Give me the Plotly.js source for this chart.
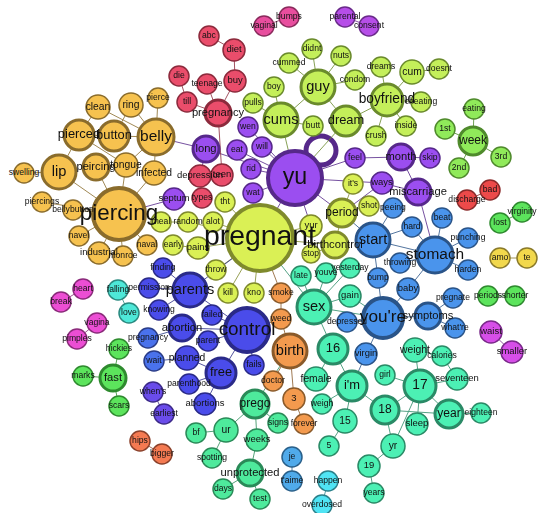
<!DOCTYPE html>
<html><head><meta charset="utf-8">
<script src="https://cdn.plot.ly/plotly-3.0.1.min.js"></script>
<style>html,body{margin:0;padding:0;background:#fff}#chart{width:539px;height:513px}</style>
</head><body><div id="chart"></div>
<script>
// ---- data: word nodes (id, community group, weight) ----
const nodeIds = ["belly","clean","ring","pierce","pierced","button","lip","peircing","tongue","swelling","infected","piercing","piercings","bellybutton","navel","industrial","monroe","naval",
"die","till","abc","diet","teenage","buy","pregnancy","depression","teen","types",
"vaginal","bumps","parental","consent",
"didnt","nuts","cummed","guy","condom","boy","pulls","cums","butt","dream","dreams","cum","doesnt","boyfriend","cheating","inside","crush",
"eating","1st","week","3rd","2nd",
"yu","wen","long","eat","will","rid","wat","feel","month","skip","septum","ways","miscarriage",
"pregnant","tht","random","alot","meal","early","pains","throw","kill","kno","yur","it's","period","shot","birthcontrol","stop",
"smoke","weed","birth","doctor","3","forever",
"start","stomach","peeing","hard","beat","punching","harden","throwing","bump","baby","pregnate","symptoms","what're","you're","depressed","virgin",
"control","parents","finding","permission","knowing","abortion","failed","parent","planned","free","fails","parenthood","abortions",
"pregnancy_b","wait","when's","earliest",
"sex","late","youve","yesterday","gain","16","female","i'm","weigh","15","5","girl","weight","calories","17","seventeen","18","year","eighteen","sleep","yr","19","years",
"prego","signs","ur","bf","weeks","spotting","unprotected","days","test",
"discharge","bad","virginity","lost","amo","te","periods","shorter","waist","smaller","heart","break","vagina","pimples","falling","love","hickies","fast","marks","scars","hips","bigger","je","t'aime","happen","overdosed"];

const nodeGroup = ["pierce","pierce","pierce","pierce","pierce","pierce","pierce","pierce","pierce","pierce","pierce","pierce","pierce","pierce","pierce","pierce","pierce","pierce",
"redp","redp","redp","redp","redp","redp","redp","redp","redp","redp",
"pinkv","pinkv","violet","violet",
"lime","lime","lime","lime","lime","lime","lime","lime","lime","lime","lime","lime","lime","lime","lime","lime","lime",
"green2","green2","green2","green2","green2",
"purple","purple","purple","purple","purple","purple","purple","purple","purple","purple","purple","purple","purple",
"yellow","yellow","yellow","yellow","yellow","yellow","yellow","yellow","yellow","yellow","yellow","yellow","yellow","yellow","yellow","yellow",
"orange","orange","orange","orange","orange","orange",
"blue","blue","blue","blue","blue","blue","blue","blue","blue","blue","blue","blue","blue","blue","blue","blue",
"indigo","indigo","indigo","indigo","indigo","indigo","indigo","indigo","indigo","indigo","indigo","indigo","indigo",
"blue2","blue2","vblue","vblue",
"teal","teal","teal","teal","teal","teal","teal","teal","teal","teal","teal","teal","teal","teal","teal","teal","teal","teal","teal","teal","teal","teal","teal",
"teal2","teal2","teal2","teal2","teal2","teal2","teal2","teal2","teal2",
"red","red","green","green","gold","gold","green","green","mag2","mag2","magenta","magenta","magenta","magenta","cyan","cyan","green","green","green","green","coral","coral","sky","sky","aqua","aqua"];

// node weight (drawn as circle radius)
const nodeWeight = [18,12,12,10,15,15,17,13,12,10,12,26,10,10,10,11,10,10,
10,10,10,11,10,11,13,11,11,10,
10,10,10,10,
10,10,10,17,10,10,10,17,10,15,10,12,10,16,10,10,10,
10,10,14,10,10,
27,10,13,10,10,10,10,10,13,10,11,11,13,
33,10,10,10,10,10,11,10,10,10,11,10,14,10,13,9,
10,10,17,10,11,10,
17,18,10,10,10,10,10,10,10,11,10,13,10,20,10,11,
22,17,10,10,10,13,10,10,12,15,10,10,11,
10,10,10,10,
17,10,10,10,11,15,12,15,10,12,10,10,12,10,16,11,14,14,10,11,12,11,10,
14,10,12,10,11,10,13,10,10,
10,10,10,10,10,10,10,10,11,11,10,10,10,10,10,10,10,13,10,10,10,10,10,10,10,10];

// force-layout positions of the nodes
const layoutX = [156,98,131,158,79,114,59,96,126,24,154,119,42,73,79,99,123,147,
179,187,209,234,207,235,218,200,222,202,
264,289,345,369,
312,341,289,318,355,274,253,281,313,346,381,412,439,387,421,406,376,
474,445,473,501,459,
295,248,206,237,262,251,253,355,401,430,174,382,418,
260,225,188,213,161,173,198,216,228,254,311,353,342,369,335,311,
281,281,290,273,294,304,
373,435,393,412,442,468,468,400,378,408,453,428,455,383,347,366,
247,190,163,149,159,182,212,208,187,221,254,189,205,
148,154,153,164,
314,301,326,350,350,333,316,352,322,345,329,385,415,442,420,457,385,449,481,417,393,369,374,
255,278,226,196,257,212,250,223,260,
467,490,522,500,500,527,488,515,491,512,83,61,97,77,118,129,119,113,83,119,140,162,292,292,328,322];
const layoutY = [137,107,105,98,135,136,172,167,165,173,173,214,202,210,236,253,256,245,
76,102,36,50,84,81,113,176,175,198,
26,17,17,26,
49,56,63,87,80,87,103,120,126,121,67,72,69,100,102,126,136,
109,129,141,157,168,
178,127,149,150,147,169,193,158,157,158,199,183,192,
238,202,222,222,222,245,248,270,293,293,226,184,213,206,245,254,
293,319,351,381,399,424,
240,255,208,227,218,238,270,263,278,289,298,316,328,318,322,354,
330,290,268,288,310,328,315,341,358,373,365,384,404,
338,361,392,414,
307,276,273,268,296,349,379,386,404,421,446,375,350,356,386,379,410,414,413,424,446,466,493,
404,423,430,433,440,458,473,489,499,
200,190,212,223,258,258,296,296,332,352,289,302,323,339,290,313,349,378,376,406,441,454,457,481,481,505];

// directed word links: [source, target]
const links = [
["lip","piercing"],["peircing","piercing"],["tongue","piercing"],["infected","piercing"],["piercings","piercing"],["bellybutton","piercing"],["navel","piercing"],["industrial","piercing"],["monroe","piercing"],["naval","piercing"],["swelling","lip"],["pierced","lip"],["clean","pierced"],["clean","belly"],["ring","belly"],["pierce","belly"],["button","belly"],["infected","belly"],["tongue","pierced"],["tongue","belly"],["ring","button"],["pierced","button"],["peircing","tongue"],["septum","piercing"],["long","belly"],
["die","till"],["till","pregnancy"],["teenage","pregnancy"],["buy","pregnancy"],["diet","buy"],["abc","diet"],["teen","pregnancy"],["depression","teen"],["types","depression"],["long","depression"],
["vaginal","bumps"],["parental","consent"],
["didnt","guy"],["nuts","guy"],["cummed","guy"],["condom","guy"],["guy","cums"],["boy","cums"],["pulls","cums"],["butt","cums"],["cums","yu"],["dream","yu"],["guy","dream"],["dreams","boyfriend"],["cum","boyfriend"],["cheating","boyfriend"],["inside","boyfriend"],["crush","boyfriend"],["boyfriend","dream"],["doesnt","cum"],
["eating","week"],["1st","week"],["3rd","week"],["2nd","week"],
["wen","yu"],["eat","yu"],["will","yu"],["rid","yu"],["wat","yu"],["long","yu"],["feel","yu"],["month","feel"],["skip","month"],["ways","yu"],["yu","pregnant"],["yu","yur"],["yu","period"],["month","miscarriage"],
["tht","pregnant"],["random","pregnant"],["alot","pregnant"],["pains","pregnant"],["throw","pregnant"],["kill","pregnant"],["kno","pregnant"],["smoke","pregnant"],["yur","pregnant"],["birthcontrol","pregnant"],["meal","random"],["early","pains"],["period","birthcontrol"],["it's","period"],["shot","period"],["stop","birthcontrol"],["ways","period"],
["peeing","start"],["bump","start"],["start","stomach"],["hard","stomach"],["beat","stomach"],["punching","stomach"],["harden","stomach"],["throwing","stomach"],["baby","stomach"],["baby","you're"],["symptoms","you're"],["pregnate","symptoms"],["what're","symptoms"],["bump","you're"],["miscarriage","stomach"],["ways","miscarriage"],["hard","start"],["depressed","you're"],["virgin","you're"],["start","period"],
["finding","parents"],["permission","parents"],["knowing","parents"],["parents","control"],["failed","control"],["parent","control"],["abortion","control"],["planned","free"],["parenthood","free"],["abortions","free"],["free","control"],["fails","control"],["pregnancy_b","abortion"],["wait","planned"],["when's","earliest"],["weed","control"],["parents","pregnant"],
["smoke","weed"],["weed","birth"],["doctor","birth"],["3","birth"],["forever","3"],
["late","sex"],["youve","sex"],["yesterday","sex"],["gain","sex"],["sex","pregnant"],["female","16"],["i'm","16"],["16","sex"],["weigh","i'm"],["15","i'm"],["5","15"],["girl","17"],["weight","17"],["calories","weight"],["seventeen","17"],["calories","seventeen"],["17","year"],["18","year"],["eighteen","year"],["sleep","17"],["18","17"],["yr","18"],["19","yr"],["years","19"],["i'm","18"],["virgin","i'm"],["sex","you're"],["gain","you're"],["yr","17"],
["signs","prego"],["weeks","prego"],["ur","prego"],["bf","ur"],["spotting","ur"],["unprotected","weeks"],["days","unprotected"],["test","unprotected"],["prego","birth"],
["je","t'aime"],["happen","overdosed"],["heart","break"],["vagina","pimples"],["falling","love"],["hips","bigger"],["amo","te"],["periods","shorter"],["waist","smaller"],["bad","discharge"],["virginity","lost"],["hickies","fast"],["marks","fast"],["scars","fast"]
];

// ---- styles ----
const groupFill = {pierce:"#f6c24f",redp:"#ea4d6b",pinkv:"#e84e9e",violet:"#b64ee8",lime:"#c4ef5a",green2:"#90ea5a",purple:"#9b4ef0",yellow:"#daf055",orange:"#f39a4e",blue:"#4a94ec",indigo:"#4a4cea",blue2:"#4a72ec",vblue:"#6a4cea",teal:"#4cf0b4",teal2:"#4eea9c",red:"#ec4a4a",green:"#5ce45c",gold:"#f2d84c",mag2:"#d64ee8",magenta:"#ec4ed4",cyan:"#4ee8d8",coral:"#f47a52",sky:"#50aaea",aqua:"#50e4f4"};
const groupLine = {pierce:"#8a6c2c",redp:"#8c2a3c",pinkv:"#8a2a5c",violet:"#6a2a8a",lime:"#6a8a2c",green2:"#4f8a2c",purple:"#56288a",yellow:"#7f8a2c",orange:"#8a5a2a",blue:"#2a5488",indigo:"#2a2a88",blue2:"#2a3c88",vblue:"#3c2a88",teal:"#2a8a66",teal2:"#2a8a58",red:"#8a2a2a",green:"#2e8a2e",gold:"#8a7a2a",mag2:"#7a2a8a",magenta:"#8a2a7a",cyan:"#2a8a80",coral:"#8a402a",sky:"#2a608a",aqua:"#2a808a"};

const idx = {};
nodeIds.forEach((n,i)=>idx[n]=i);
const labels = nodeIds.map(n => n==="pregnancy_b" ? "pregnancy" : n);

// edges grouped by source colour
const edgeTraces = {};
links.forEach(([s,t])=>{
  const a = idx[s], b = idx[t];
  const g = nodeGroup[a];
  if(!edgeTraces[g]) edgeTraces[g] = {x:[],y:[]};
  edgeTraces[g].x.push(layoutX[a], layoutX[b], null);
  edgeTraces[g].y.push(layoutY[a], layoutY[b], null);
});
const traces = Object.keys(edgeTraces).map(g=>({
  type:"scatter", mode:"lines", x:edgeTraces[g].x, y:edgeTraces[g].y,
  line:{color:groupLine[g], width:1}, opacity:0.8, hoverinfo:"skip", showlegend:false
}));

// nodes: draw bigger ones first so small ones sit on top
const order = nodeIds.map((_,i)=>i).sort((a,b)=>nodeWeight[b]-nodeWeight[a]);
traces.push({
  type:"scatter", mode:"markers+text",
  x: order.map(i=>layoutX[i]), y: order.map(i=>layoutY[i]),
  text: order.map(i=>labels[i]),
  textposition:"middle center",
  textfont:{family:"Liberation Sans, Arial, sans-serif", color:"#111", size: order.map(i=>Math.max(8.5, nodeWeight[i]*0.86))},
  marker:{size: order.map(i=>nodeWeight[i]*2), color: order.map(i=>groupFill[nodeGroup[i]]),
    line:{color: order.map(i=>groupLine[nodeGroup[i]]), width: order.map(i=>nodeWeight[i]>=20?4:(nodeWeight[i]>=13?3:1.5))}, opacity:1},
  hoverinfo:"text", showlegend:false, cliponaxis:false
});

const layout = {
  width:539, height:513, margin:{l:0,r:0,t:0,b:0},
  paper_bgcolor:"#fff", plot_bgcolor:"#fff",
  xaxis:{range:[0,539], visible:false, fixedrange:true},
  yaxis:{range:[513,0], visible:false, fixedrange:true},
  shapes:[{type:"circle", xref:"x", yref:"y", x0:306, x1:336, y0:136, y1:165, line:{color:"#56288a", width:5}, layer:"below"}],
  showlegend:false
};
Plotly.newPlot("chart", traces, layout, {displayModeBar:false, staticPlot:true});
</script></body></html>
